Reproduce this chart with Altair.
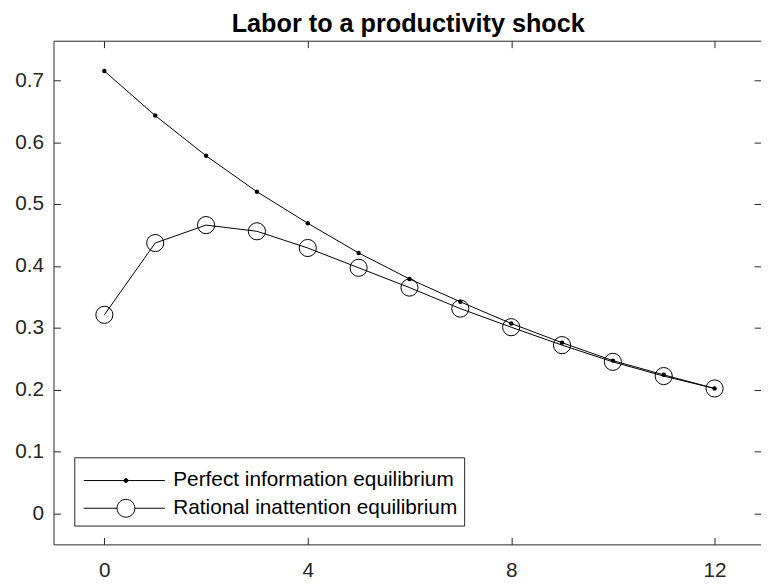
import altair as alt
import pandas as pd

# ---- data ----
x_vals = list(range(13))
perfect = [0.715, 0.643, 0.578, 0.520, 0.469, 0.421, 0.379, 0.342, 0.307, 0.276, 0.247, 0.224, 0.202]
rational = [0.321, 0.437, 0.466, 0.456, 0.429, 0.397, 0.365, 0.331, 0.301, 0.272, 0.245, 0.222, 0.202]
series_names = ["Perfect information equilibrium", "Rational inattention equilibrium"]
x_ticks = [0, 4, 8, 12]
y_ticks = [0, 0.1, 0.2, 0.3, 0.4, 0.5, 0.6, 0.7]
title_text = "Labor to a productivity shock"

df = pd.DataFrame({
    "t": x_vals + x_vals,
    "value": perfect + rational,
    "series": [series_names[0]] * len(x_vals) + [series_names[1]] * len(x_vals),
})

FONT = "Liberation Sans"
AX = "#262626"
W, H = 715, 509
X_DOM = [-1, 12.913]
Y_DOM = [-0.05, 0.764]

xs = alt.Scale(domain=X_DOM, nice=False, zero=False)
ys = alt.Scale(domain=Y_DOM, nice=False, zero=False)


def circ(cx, r):
    return f"M{cx + r},0A{r},{r} 0 1,1 {cx - r},0A{r},{r} 0 1,1 {cx + r},0"


CX = 3.57
L0, L1 = -0.7, 7.5
path_perfect = f"M{L0},0H{L1}" + "".join(circ(CX, r) for r in (0.04, 0.08, 0.12, 0.16, 0.2))
path_rational = f"M{L0},0H{CX - 0.9:.2f}M{CX + 0.9:.2f},0H{L1}" + circ(CX, 0.9)

# layer 1: lines, with labelled bottom / left axes
line = alt.Chart(df).mark_line(color="black", strokeWidth=1).encode(
    x=alt.X("t:Q", scale=xs, axis=alt.Axis(orient="bottom", values=x_ticks, format="d",
                                           ticks=False, tickSize=0, labelPadding=15,
                                           domain=True, title=None, grid=False)),
    y=alt.Y("value:Q", scale=ys, axis=alt.Axis(orient="left", values=y_ticks, format=".1~f",
                                               ticks=False, tickSize=0, labelPadding=10,
                                               domain=True, title=None, grid=False)),
    detail="series:N",
)

# layer 2: dots, inward ticks on bottom and left edges
dots = alt.Chart(df).transform_filter(
    alt.datum.series == series_names[0]
).mark_point(filled=True, size=20, color="black", opacity=1).encode(
    x=alt.X("t:Q", scale=xs, axis=alt.Axis(orient="top", offset=-H, values=x_ticks,
                                           labels=False, domain=False, ticks=True,
                                           tickSize=7, title=None, grid=False)),
    y=alt.Y("value:Q", scale=ys, axis=alt.Axis(orient="right", offset=-W, values=y_ticks,
                                               labels=False, domain=False, ticks=True,
                                               tickSize=7, title=None, grid=False)),
)

# layer 3: open circles, top border + inward ticks on top and right edges
circles = alt.Chart(df).transform_filter(
    alt.datum.series == series_names[1]
).mark_point(filled=False, size=300, color="black", strokeWidth=1, opacity=1).encode(
    x=alt.X("t:Q", scale=xs, axis=alt.Axis(orient="bottom", offset=-H, values=x_ticks,
                                           labels=False, domain=True, ticks=True,
                                           tickSize=7, title=None, grid=False)),
    y=alt.Y("value:Q", scale=ys, axis=alt.Axis(orient="left", offset=-W, values=y_ticks,
                                               labels=False, domain=False, ticks=True,
                                               tickSize=7, title=None, grid=False)),
)

# layer 4: invisible layer that only produces the legend
legend_layer = alt.Chart(df).mark_point(opacity=0, color="black").encode(
    x=alt.X("t:Q", scale=xs, axis=None),
    y=alt.Y("value:Q", scale=ys, axis=None),
    shape=alt.Shape("series:N",
                    scale=alt.Scale(domain=series_names, range=[path_perfect, path_rational]),
                    legend=alt.Legend(orient="none", legendX=21, legendY=421, title=" ",
                                      titleFontSize=5, titlePadding=2,
                                      padding=6, rowPadding=6, labelOffset=73,
                                      symbolSize=400, symbolStrokeWidth=1,
                                      symbolStrokeColor="black", symbolFillColor="transparent",
                                      symbolOpacity=1, labelFont=FONT, labelFontSize=21,
                                      labelColor="black", labelLimit=500,
                                      strokeColor=AX, fillColor="white", cornerRadius=0)),
)

chart = alt.layer(line, dots, circles, legend_layer).resolve_axis(
    x="independent", y="independent"
).properties(
    width=W,
    height=H,
    background="white",
    padding={"left": 46, "top": 30, "right": 0, "bottom": 38},
    autosize=alt.AutoSizeParams(type="none"),
    title=alt.TitleParams(title_text, font=FONT, fontSize=25.5, fontWeight="bold",
                          color="black", anchor="middle", frame="group",
                          baseline="alphabetic", offset=10, dx=1, dy=27),
).configure_axis(
    labelFont=FONT, labelFontSize=21, labelColor=AX, domainColor=AX, tickColor=AX,
    domainWidth=1, tickWidth=1, grid=False,
).configure_view(
    strokeWidth=0
)

chart.save("out.html", embed_options={"renderer": "svg", "actions": False})
